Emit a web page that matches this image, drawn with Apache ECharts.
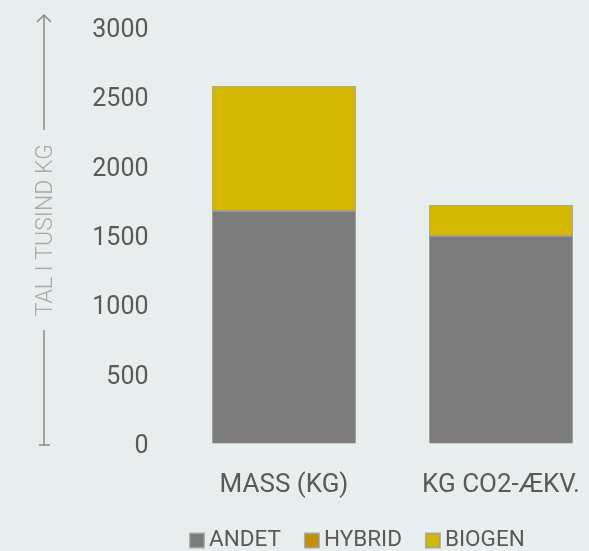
<!DOCTYPE html>
<html><head><meta charset="utf-8">
<script src="https://cdn.jsdelivr.net/npm/echarts@6/dist/echarts.min.js"></script>
<style>html,body{margin:0;padding:0;background:#e8eded;}#c{width:589px;height:551px;}</style>
</head><body><div id="c"></div>
<script>
const categories = ['MASS (KG)', 'KG CO2-ÆKV.'];
const andet = [1675, 1495];
const hybrid = [0, 0];
const biogen = [900, 223];
const yTicks = [0, 500, 1000, 1500, 2000, 2500, 3000];
const seriesNames = ['ANDET', 'HYBRID', 'BIOGEN'];

const chart = echarts.init(document.getElementById('c'), null, {renderer: 'canvas'});
const colors = ['#7b7b7b', '#c39100', '#d4b800'];
const font = 'Roboto';
const border = {borderColor: 'rgba(150,150,150,0.7)', borderWidth: 1};
chart.setOption({
  backgroundColor: '#e8eded',
  animation: false,
  color: colors,
  grid: {left: 284, top: 27, right: 88, height: 416.5, containLabel: false},
  legend: {
    data: seriesNames, top: 524, left: 184, itemWidth: 14, itemHeight: 14, itemGap: 23,
    icon: 'rect',
    textStyle: {fontFamily: font, fontSize: 22.5, color: '#5a5a5a'}
  },
  xAxis: {
    type: 'category', data: categories, boundaryGap: false,
    axisLine: {show: false}, axisTick: {show: false},
    axisLabel: {fontFamily: font, fontSize: 26, color: '#5a5a5a', margin: 29}
  },
  yAxis: {
    type: 'value', min: 0, max: 3000, interval: 500, offset: 108.5,
    splitLine: {show: false}, axisLine: {show: false}, axisTick: {show: false},
    axisLabel: {color: '#5a5a5a', margin: 27,
      formatter: v => yTicks.includes(v) ? '{a|' + v + '}' : '',
      rich: {a: {fontFamily: font, fontSize: 25, color: '#5a5a5a', padding: [7, 0, 0, 0]}}},
    name: 'TAL I TUSIND KG', nameLocation: 'middle', nameGap: 118, nameRotate: 90,
    nameTextStyle: {fontFamily: font, fontWeight: 300, fontSize: 23, color: '#a9a9a9', padding: [0, 0, 0, 10]}
  },
  series: [
    {name: 'ANDET', type: 'bar', stack: 's', data: andet, barWidth: 144, clip: false, itemStyle: border},
    {name: 'HYBRID', type: 'bar', stack: 's', data: hybrid, barWidth: 144, clip: false, itemStyle: border},
    {name: 'BIOGEN', type: 'bar', stack: 's', data: biogen, barWidth: 144, clip: false, itemStyle: border}
  ],
  graphic: [
    {type: 'line', shape: {x1: 44, y1: 15, x2: 44, y2: 130}, style: {stroke: '#8a8a8a', lineWidth: 1.5}},
    {type: 'polyline', shape: {points: [[37, 22], [44, 15], [51, 22]]}, style: {stroke: '#8a8a8a', lineWidth: 1.5, fill: null}},
    {type: 'line', shape: {x1: 44, y1: 330, x2: 44, y2: 445}, style: {stroke: '#8a8a8a', lineWidth: 1.5}},
    {type: 'line', shape: {x1: 39, y1: 445, x2: 50, y2: 445}, style: {stroke: '#8a8a8a', lineWidth: 1.5}}
  ]
});
</script></body></html>
